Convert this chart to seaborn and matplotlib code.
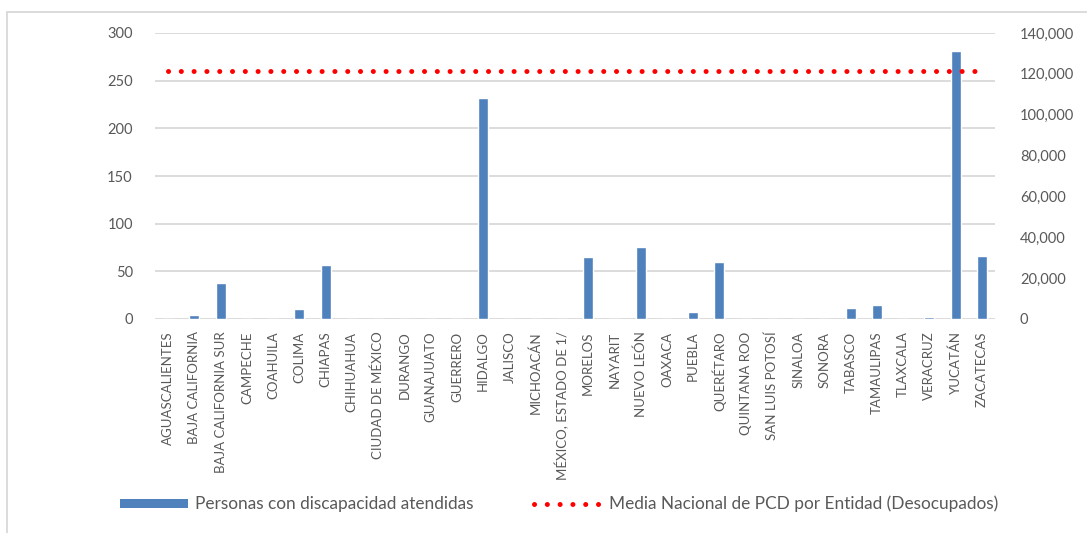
import numpy as np
import pandas as pd
import matplotlib
matplotlib.use("Agg")
import matplotlib.pyplot as plt
from matplotlib.lines import Line2D
from matplotlib.patches import Patch
from matplotlib.ticker import FuncFormatter, MultipleLocator
import seaborn as sns

entidades = [
    "AGUASCALIENTES", "BAJA CALIFORNIA", "BAJA CALIFORNIA SUR", "CAMPECHE",
    "COAHUILA", "COLIMA", "CHIAPAS", "CHIHUAHUA", "CIUDAD DE MÉXICO", "DURANGO",
    "GUANAJUATO", "GUERRERO", "HIDALGO", "JALISCO", "MICHOACÁN",
    "MÉXICO, ESTADO DE 1/", "MORELOS", "NAYARIT", "NUEVO LEÓN", "OAXACA",
    "PUEBLA", "QUERÉTARO", "QUINTANA ROO", "SAN LUIS POTOSÍ", "SINALOA",
    "SONORA", "TABASCO", "TAMAULIPAS", "TLAXCALA", "VERACRUZ", "YUCATÁN",
    "ZACATECAS",
]
personas_atendidas = [
    0, 4, 38, 0, 0, 11, 57, 0, 0, 0,
    0, 0, 232, 0, 0, 0, 65, 0, 76, 0,
    7, 60, 0, 0, 0, 0, 12, 15, 0, 2, 281, 66,
]
media_nacional_valor = 121500
media_nacional = [media_nacional_valor] * len(entidades)

serie_barras = "Personas con discapacidad atendidas"
serie_linea = "Media Nacional de PCD por Entidad (Desocupados)"

sns.set_theme(style="white")
plt.rcParams["font.family"] = ["Lato", "DejaVu Sans"]

TXT = "#595959"
GRID = "#d9d9d9"
BAR = "#4F81BD"

df = pd.DataFrame({"entidad": entidades, "personas": personas_atendidas,
                   "pos": np.arange(len(entidades)), "media": media_nacional})

fig = plt.figure(figsize=(10.87, 5.33), dpi=100)
ax = fig.add_axes([155 / 1087, 1 - 319 / 533, (995 - 155) / 1087, (319 - 33) / 533])

sns.barplot(data=df, x="entidad", y="personas", order=entidades, color=BAR,
            saturation=1, width=0.39, ax=ax)
ax.set_xlim(-0.5, len(entidades) - 0.5)
ax.set_ylim(0, 300)
ax.yaxis.set_major_locator(MultipleLocator(50))
ax.grid(axis="y", color=GRID, linewidth=1.3)
ax.set_axisbelow(True)
for s in ax.spines.values():
    s.set_visible(False)
ax.set_xlabel("")
ax.set_ylabel("")
ax.tick_params(axis="x", labelrotation=90, labelsize=9.5, colors=TXT, length=0, pad=9)
ax.tick_params(axis="y", labelsize=10.5, colors=TXT, length=0, pad=16)

ax2 = ax.twinx()
dot_style = (0, (0.01, 2.55))
sns.lineplot(data=df, x="pos", y="media", ax=ax2, color="#FF0000",
             linewidth=3.6, linestyle=dot_style, dash_capstyle="round")
ax2.set_ylim(0, 140000)
ax2.yaxis.set_major_locator(MultipleLocator(20000))
ax2.yaxis.set_major_formatter(FuncFormatter(lambda v, p: f"{int(v):,}"))
ax2.tick_params(axis="y", labelsize=10.5, colors=TXT, length=0, pad=18)
ax2.set_ylabel("")
ax2.set_xlabel("")
ax2.grid(False)
for s in ax2.spines.values():
    s.set_visible(False)
ax.set_xlim(-0.5, len(entidades) - 0.5)

handles = [
    Patch(facecolor=BAR, edgecolor="none", label=serie_barras),
    Line2D([0], [0], color="#FF0000", linewidth=3.6, linestyle=dot_style,
           dash_capstyle="round", label=serie_linea),
]
leg = fig.legend(handles=handles, loc="center", bbox_to_anchor=(559 / 1087, 1 - 504 / 533),
                 ncol=2, frameon=False, fontsize=12.4, handlelength=3.95,
                 handleheight=0.45, handletextpad=0.4, columnspacing=3.5)
for t in leg.get_texts():
    t.set_color(TXT)

fig.add_artist(Line2D([7 / 1087, 7 / 1087], [0, 1 - 12 / 533], transform=fig.transFigure,
                      color=GRID, linewidth=1.3))
fig.add_artist(Line2D([7 / 1087, 1], [1 - 12 / 533, 1 - 12 / 533], transform=fig.transFigure,
                      color=GRID, linewidth=1.3))

fig.savefig("out.png", dpi=100, facecolor="white")
